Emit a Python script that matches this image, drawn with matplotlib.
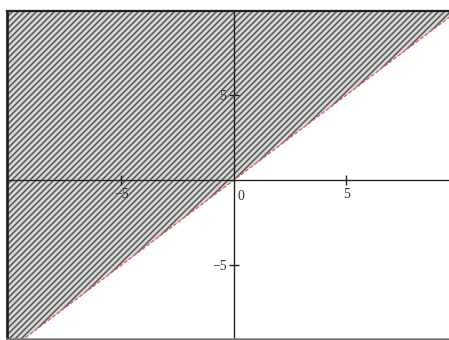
import matplotlib
matplotlib.use("Agg")
import matplotlib.pyplot as plt
import numpy as np

# Inequality y >= slope * x + intercept
slope = 1.0
intercept = 0.0
x_domain = [-10.09, 9.56]
y_domain = [-9.35, 9.94]
tick_values = [-5, 5]
tick_labels = ["\u22125", "5"]

DPI = 90
plt.rcParams['hatch.linewidth'] = 1.2
plt.rcParams['hatch.color'] = '#555555'

fig = plt.figure(figsize=(449/DPI, 340/DPI), dpi=DPI)
ax = fig.add_axes([7/449, 1/340, 442/449, 328/340])
ax.set_xlim(x_domain)
ax.set_ylim(y_domain)

xs = np.array(x_domain)
ys = slope * xs + intercept
ax.fill_between(xs, ys, y_domain[1], facecolor='#d6d6d6', hatch='/////',
                edgecolor='#555555', linewidth=0, zorder=1)
ax.plot(xs, ys, color='#e05a5a', linestyle=(0, (3, 1.5)), linewidth=1.0, zorder=3)

for s in ['top', 'right']:
    ax.spines[s].set_visible(False)
ax.spines['left'].set_position(('data', 0))
ax.spines['bottom'].set_position(('data', 0))
for s in ['left', 'bottom']:
    ax.spines[s].set_linewidth(1.1)
    ax.spines[s].set_color('#222222')
    ax.spines[s].set_zorder(4)

ax.set_xticks(tick_values)
ax.set_xticklabels(tick_labels)
ax.set_yticks(tick_values)
ax.set_yticklabels(tick_labels)
ax.tick_params(direction='inout', length=8, width=1.1, color='#222222',
               labelsize=11, pad=2)
for lab in ax.get_xticklabels() + ax.get_yticklabels():
    lab.set_family('Liberation Serif')
    lab.set_color('#333333')
ax.text(0.15, -0.6, '0', fontsize=11, family='Liberation Serif', color='#333333',
        ha='left', va='top', zorder=5)

# frame
ax.plot([0, 0], [0, 1], transform=ax.transAxes, color='#222222', lw=2.2, clip_on=False, zorder=6)
ax.plot([0, 1], [1, 1], transform=ax.transAxes, color='#222222', lw=1.8, clip_on=False, zorder=6)
ax.plot([0, 1], [0, 0], transform=ax.transAxes, color='#777777', lw=2.0, clip_on=False, zorder=6)

fig.savefig('out.png', dpi=DPI)
